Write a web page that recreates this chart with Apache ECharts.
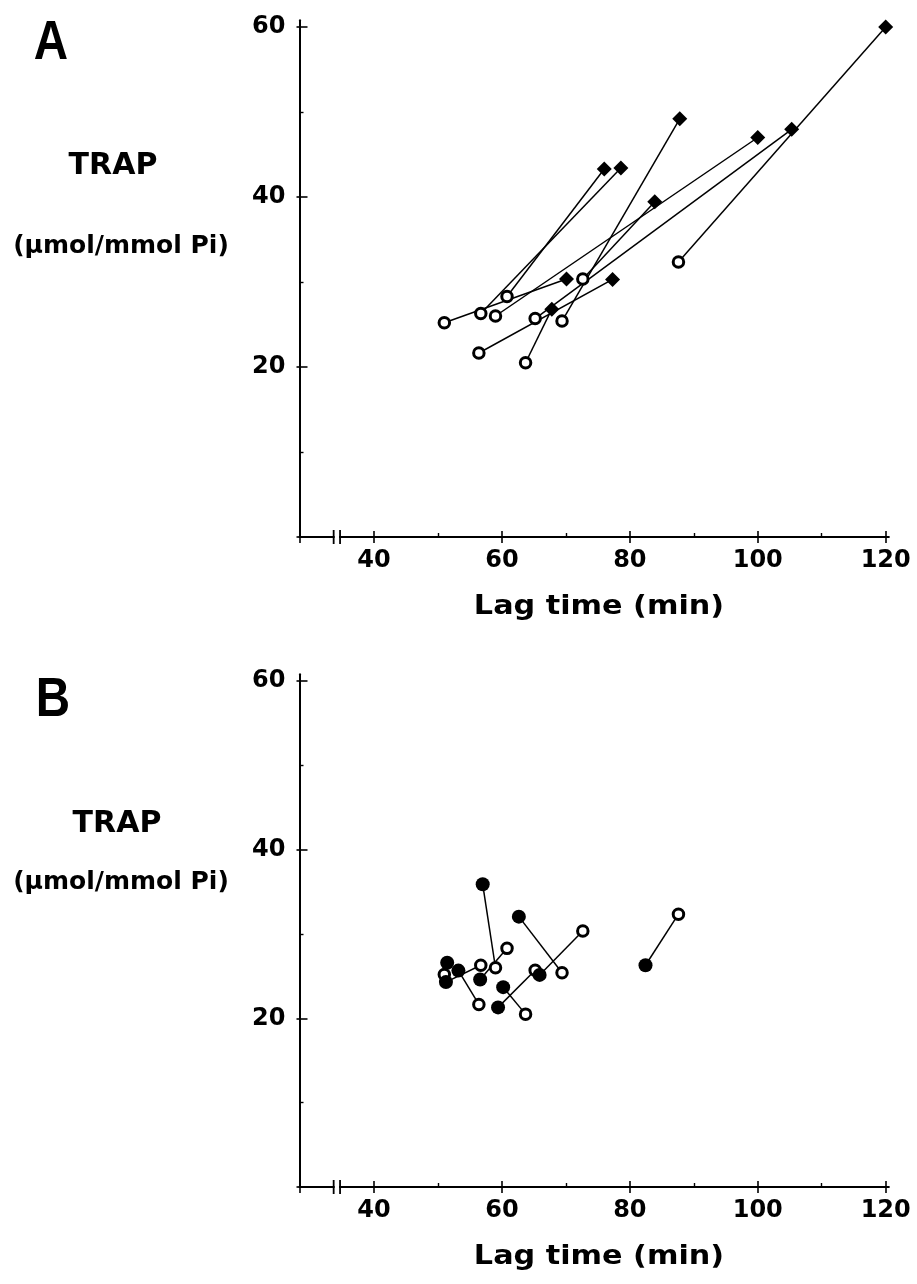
<!DOCTYPE html>
<html><head><meta charset="utf-8">
<script src="https://cdn.jsdelivr.net/npm/echarts@6/dist/echarts.min.js"></script>
<style>html,body{margin:0;padding:0;background:#fff}#c{width:917px;height:1284px}</style>
</head><body><div id="c"></div>
<script>
// Baseline (open circles) - shared by both panels
const baseLag  = [51.0, 56.7, 59.0, 60.8, 56.4, 65.2, 63.7, 69.4, 72.65, 87.6];
const baseTrap = [25.2, 26.3, 26.0, 28.3, 21.65, 25.7, 20.5, 25.4, 30.35, 32.35];
// Panel A (filled diamonds)
const aLag  = [70.1, 78.6, 100.0, 76.0, 77.3, 105.3, 67.8, 87.8, 83.9, 120.0];
const aTrap = [30.35, 43.4, 47.0, 43.3, 30.3, 47.96, 26.8, 49.2, 39.45, 60.0];
// Panel B (filled circles)
const bLag  = [51.45, 51.25, 57.0, 56.6, 53.2, 59.4, 60.2, 62.65, 65.9, 82.45];
const bTrap = [26.6, 24.3, 35.9, 24.6, 25.66, 21.3, 23.7, 32.06, 25.15, 26.3];
// Ticks
const xMajor = [40, 60, 80, 100, 120];
const xMinor = [50, 70, 90, 110];
const yMajor = [20, 40, 60];
const yMinor = [10, 30, 50];

const X_MIN = 28.36, X_MAX = 120.5, Y_MIN = 0, Y_MAX = 60.8;
const FONT = '"DejaVu Sans", sans-serif';

const chart = echarts.init(document.getElementById('c'), null, {renderer: 'canvas'});

const grids = [
  {left: 299.5, top: 20.2, width: 589.4, height: 516.8},
  {left: 299.5, top: 674.3, width: 589.4, height: 512.7}
];

const xAxes = [], yAxes = [], series = [];
grids.forEach((g, gi) => {
  const base = {type: 'value', gridIndex: gi, min: X_MIN, max: X_MAX, position: 'bottom', offset: 0,
    splitLine: {show: false}, axisPointer: {show: false}};
  xAxes.push(Object.assign({}, base, {
    axisLine: {show: true, onZero: false, lineStyle: {color: '#000', width: 2}},
    axisTick: {show: true, inside: false, length: 6, customValues: [X_MIN].concat(xMajor), lineStyle: {color: '#000', width: 1.6}},
    axisLabel: {show: true, customValues: xMajor, color: '#000', fontSize: 24, fontWeight: 'bold', fontFamily: FONT, margin: 12}
  }));
  xAxes.push(Object.assign({}, base, {
    axisLine: {show: false},
    axisTick: {show: true, inside: true, length: 6, customValues: xMajor, lineStyle: {color: '#000', width: 1.6}},
    axisLabel: {show: false}
  }));
  xAxes.push(Object.assign({}, base, {
    axisLine: {show: false},
    axisTick: {show: true, inside: true, length: 4, customValues: xMinor, lineStyle: {color: '#000', width: 1.4}},
    axisLabel: {show: false}
  }));
  const ybase = {type: 'value', gridIndex: gi, min: Y_MIN, max: Y_MAX, position: 'left', offset: 0,
    splitLine: {show: false}, axisPointer: {show: false}};
  yAxes.push(Object.assign({}, ybase, {
    axisLine: {show: true, onZero: false, lineStyle: {color: '#000', width: 2}},
    axisTick: {show: true, inside: true, length: 8, customValues: yMajor, lineStyle: {color: '#000', width: 1.6}},
    axisLabel: {show: true, customValues: yMajor, color: '#000', fontSize: 24, fontWeight: 'bold', fontFamily: FONT, margin: 14}
  }));
  yAxes.push(Object.assign({}, ybase, {
    axisLine: {show: false},
    axisTick: {show: true, inside: false, length: 3, customValues: [0].concat(yMajor), lineStyle: {color: '#000', width: 1.6}},
    axisLabel: {show: false}
  }));
  yAxes.push(Object.assign({}, ybase, {
    axisLine: {show: false},
    axisTick: {show: true, inside: true, length: 4, customValues: yMinor, lineStyle: {color: '#000', width: 1.4}},
    axisLabel: {show: false}
  }));

  const endLag = gi === 0 ? aLag : bLag;
  const endTrap = gi === 0 ? aTrap : bTrap;
  const xi = gi * 3, yi = gi * 3;
  baseLag.forEach((v, i) => {
    series.push({
      type: 'line', xAxisIndex: xi, yAxisIndex: yi, silent: true, animation: false,
      symbol: 'none', z: 2,
      lineStyle: {color: '#000', width: 1.5},
      data: [[baseLag[i], baseTrap[i]], [endLag[i], endTrap[i]]]
    });
  });
  series.push({
    type: 'scatter', xAxisIndex: xi, yAxisIndex: yi, silent: true, animation: false, z: 4,
    symbol: 'circle', symbolSize: 10.5,
    itemStyle: {color: '#fff', borderColor: '#000', borderWidth: 3, opacity: 1},
    data: baseLag.map((v, i) => [v, baseTrap[i]])
  });
  series.push({
    type: 'scatter', xAxisIndex: xi, yAxisIndex: yi, silent: true, animation: false, z: 5,
    symbol: gi === 0 ? 'diamond' : 'circle', symbolSize: gi === 0 ? 15 : 14,
    itemStyle: {color: '#000', opacity: 1},
    data: endLag.map((v, i) => [v, endTrap[i]])
  });
});

chart.setOption({
  backgroundColor: '#fff',
  animation: false,
  grid: grids,
  xAxis: xAxes,
  yAxis: yAxes,
  series: series
});

function txt(text, x, y, size, opts) {
  opts = opts || {};
  return {
    type: 'text', x: x, y: y, z: 100, silent: true,
    scaleX: opts.scaleX || 1, scaleY: 1,
    style: {
      text: text, fill: '#000',
      font: 'bold ' + size + 'px ' + (opts.family || FONT),
      align: 'center', verticalAlign: 'middle',
      textAlign: 'center', textVerticalAlign: 'middle'
    }
  };
}

const gfx = [];
// panel labels and axis titles
gfx.push(txt('A', 51, 44, 56, {family: '"Liberation Sans", sans-serif', scaleX: 0.85}));
gfx.push(txt('B', 53, 701, 56, {family: '"Liberation Sans", sans-serif', scaleX: 0.85}));
gfx.push(txt('TRAP', 113, 166, 30));
gfx.push(txt('TRAP', 117, 824, 30));
gfx.push(txt('(µmol/mmol Pi)', 121, 246, 25));
gfx.push(txt('(µmol/mmol Pi)', 121, 882, 25));
gfx.push(txt('Lag time (min)', 599, 607, 27, {scaleX: 1.12}));
gfx.push(txt('Lag time (min)', 599, 1257, 27, {scaleX: 1.12}));

// axis break marks
[0, 1].forEach(gi => {
  const p1 = chart.convertToPixel({xAxisIndex: gi * 3, yAxisIndex: gi * 3}, [33.7, 0]);
  const p2 = chart.convertToPixel({xAxisIndex: gi * 3, yAxisIndex: gi * 3}, [34.7, 0]);
  gfx.push({type: 'rect', z: 100, silent: true,
    shape: {x: p1[0] + 1, y: p1[1] - 3, width: p2[0] - p1[0] - 2, height: 6},
    style: {fill: '#fff'}});
  [p1, p2].forEach(p => {
    gfx.push({type: 'line', z: 101, silent: true,
      shape: {x1: p[0], y1: p[1] - 7, x2: p[0], y2: p[1] + 7},
      style: {stroke: '#000', lineWidth: 1.8}});
  });
});

chart.setOption({graphic: {elements: gfx}});
</script>
</body></html>
